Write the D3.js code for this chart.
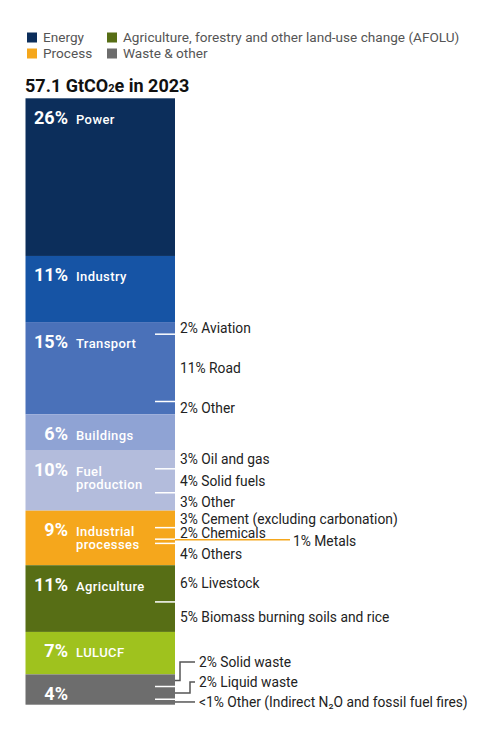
<!DOCTYPE html>
<html>
<head>
<meta charset="utf-8">
<script src="https://cdn.jsdelivr.net/npm/d3@7"></script>
<style>
  body { margin: 0; background: #fff; }
  text { font-family: Roboto, "Noto Sans", sans-serif; }
</style>
</head>
<body>
<div id="chart"></div>
<script>
// sector shares of 2023 emissions
var sectors = ["Power", "Industry", "Transport", "Buildings", "Fuel\nproduction",
               "Industrial\nprocesses", "Agriculture", "LULUCF", ""]
var shares = [26, 10.9, 15.2, 5.9, 10, 9, 11, 7, 5]
var shareLabels = ["26%", "11%", "15%", "6%", "10%", "9%", "11%", "7%", "4%"]
var colors = ["#0c2e5b", "#1654a5", "#4a71b9", "#8fa3d4", "#b3bcdc",
              "#f5a71c", "#576e15", "#9fc21e", "#6d6d6d"]

// breakdowns, by sector index
var subLabels = {
  2: ["2% Aviation", "11% Road", "2% Other"],
  4: ["3% Oil and gas", "4% Solid fuels", "3% Other"],
  5: ["3% Cement (excluding carbonation)", "2% Chemicals", "1% Metals", "4% Others"],
  6: ["6% Livestock", "5% Biomass burning soils and rice"],
  8: ["2% Solid waste", "2% Liquid waste", "<1% Other (Indirect N\u2082O and fossil fuel fires)"]
}
var subValues = {
  2: [2, 11.1, 2.1],
  4: [3.1, 3.95, 2.95],
  5: [2.8, 1.9, 0.7, 3.6],
  6: [6.05, 4.95],
  8: [2, 2.1, 0.9]
}

var legendLabels = ["Energy", "Process", "Agriculture, forestry and other land-use change (AFOLU)", "Waste & other"]
var legendColors = ["#0c2e5b", "#f5a71c", "#576e15", "#6d6d6d"]

var width = 500, height = 731
var barX = 25.5, barW = 149.5

var svg = d3.select("#chart").append("svg")
  .attr("width", width)
  .attr("height", height)

// legend, two columns
var leg = svg.selectAll(".legend").data(legendLabels).enter().append("g")
  .attr("class", "legend")
  .attr("transform", function (d, i) {
    return "translate(" + (i < 2 ? 27 : 107) + "," + (i % 2 ? 48.5 : 32.5) + ")"
  })
leg.append("rect").attr("width", 10).attr("height", 10)
  .attr("fill", function (d, i) { return legendColors[i] })
leg.append("text").attr("x", 16).attr("y", 9.8)
  .attr("font-size", "13.6px").attr("fill", "#555")
  .text(function (d) { return d })

// title
var title = svg.append("text").attr("x", 25).attr("y", 91.5)
  .attr("font-size", "18px").attr("font-weight", "bold").attr("fill", "#111")
title.append("tspan").text("57.1 GtCO")
title.append("tspan").attr("font-size", "11px").text("2")
title.append("tspan").text("e in 2023")

var y = d3.scaleLinear().domain([0, d3.sum(shares)]).range([98.3, 704.7])

var cum = d3.cumsum(shares)
var segs = shares.map(function (s, i) {
  return { i: i, y0: cum[i] - s, y1: cum[i] }
})

svg.selectAll(".seg").data(segs).enter().append("rect")
  .attr("class", "seg")
  .attr("x", barX).attr("width", barW)
  .attr("y", function (d) { return y(d.y0) })
  .attr("height", function (d) { return y(d.y1) - y(d.y0) })
  .attr("fill", function (d) { return colors[d.i] })

// sector labels inside the bar
svg.selectAll(".pct").data(segs).enter().append("text")
  .attr("class", "pct")
  .attr("x", 68).attr("y", function (d) { return y(d.y0) + 25.5 })
  .attr("text-anchor", "end")
  .attr("font-size", "18px").attr("font-weight", "bold").attr("fill", "#fff")
  .text(function (d) { return shareLabels[d.i] })

var names = svg.selectAll(".name").data(segs).enter().append("text")
  .attr("class", "name")
  .attr("x", 76).attr("y", function (d) { return y(d.y0) + 25.5 })
  .attr("font-size", "13px").attr("font-weight", 500).attr("fill", "#fff")
  .attr("letter-spacing", "0.4px")
names.selectAll("tspan")
  .data(function (d) { return sectors[d.i].split("\n") })
  .enter().append("tspan")
  .attr("x", 76)
  .attr("dy", function (d, k) { return k ? 13 : 0 })
  .text(function (d) { return d })

// breakdowns: white ticks in the bar and labels on the right
Object.keys(subValues).forEach(function (key) {
  var i = +key
  var vals = subValues[i], labs = subLabels[i]
  var c = d3.cumsum(vals)
  var parts = vals.map(function (v, k) {
    var a = segs[i].y0 + c[k] - v, b = segs[i].y0 + c[k]
    return { k: k, a: a, b: b, mid: y((a + b) / 2), label: labs[k] }
  })

  svg.selectAll(".tick" + i).data(parts.slice(1)).enter().append("line")
    .attr("x1", barX + barW - 20).attr("x2", barX + barW)
    .attr("y1", function (d) { return y(d.a) }).attr("y2", function (d) { return y(d.a) })
    .attr("stroke", "#fff").attr("stroke-width", 1.5)

  if (i === 8) {
    // waste labels stacked upward from the last slice, with elbow leaders
    var n = parts.length
    parts.forEach(function (p) { p.ly = parts[n - 1].mid - (n - 1 - p.k) * 20 })
    var elbow = [180, 190, 0]
    svg.selectAll(".lead8").data(parts).enter().append("path")
      .attr("fill", "none").attr("stroke", "#555").attr("stroke-width", 1.5)
      .attr("d", function (p) {
        var x0 = barX + barW
        if (!elbow[p.k]) return "M" + x0 + "," + p.mid + "H195"
        return "M" + x0 + "," + p.mid + "H" + elbow[p.k] + "V" + p.ly + "H195"
      })
    svg.selectAll(".sub8").data(parts).enter().append("text")
      .attr("x", 199).attr("y", function (p) { return p.ly })
      .attr("dy", "0.35em").attr("font-size", "13.8px").attr("fill", "#222")
      .text(function (p) { return p.label })
    return
  }

  svg.selectAll(".sub" + i).data(parts).enter().append("text")
    .attr("x", function (p) { return (i === 5 && p.k === 2) ? 293 : 180 })
    .attr("y", function (p) { return p.mid })
    .attr("dy", "0.35em").attr("font-size", "13.8px").attr("fill", "#222")
    .text(function (p) { return p.label })

  if (i === 5) {
    // thin metals slice gets an orange leader out to its label
    var m = parts[2]
    svg.append("line")
      .attr("x1", barX + barW).attr("x2", 290)
      .attr("y1", m.mid - 1.5).attr("y2", m.mid - 1.5)
      .attr("stroke", colors[5]).attr("stroke-width", 1.5)
  }
})
</script>
</body>
</html>
